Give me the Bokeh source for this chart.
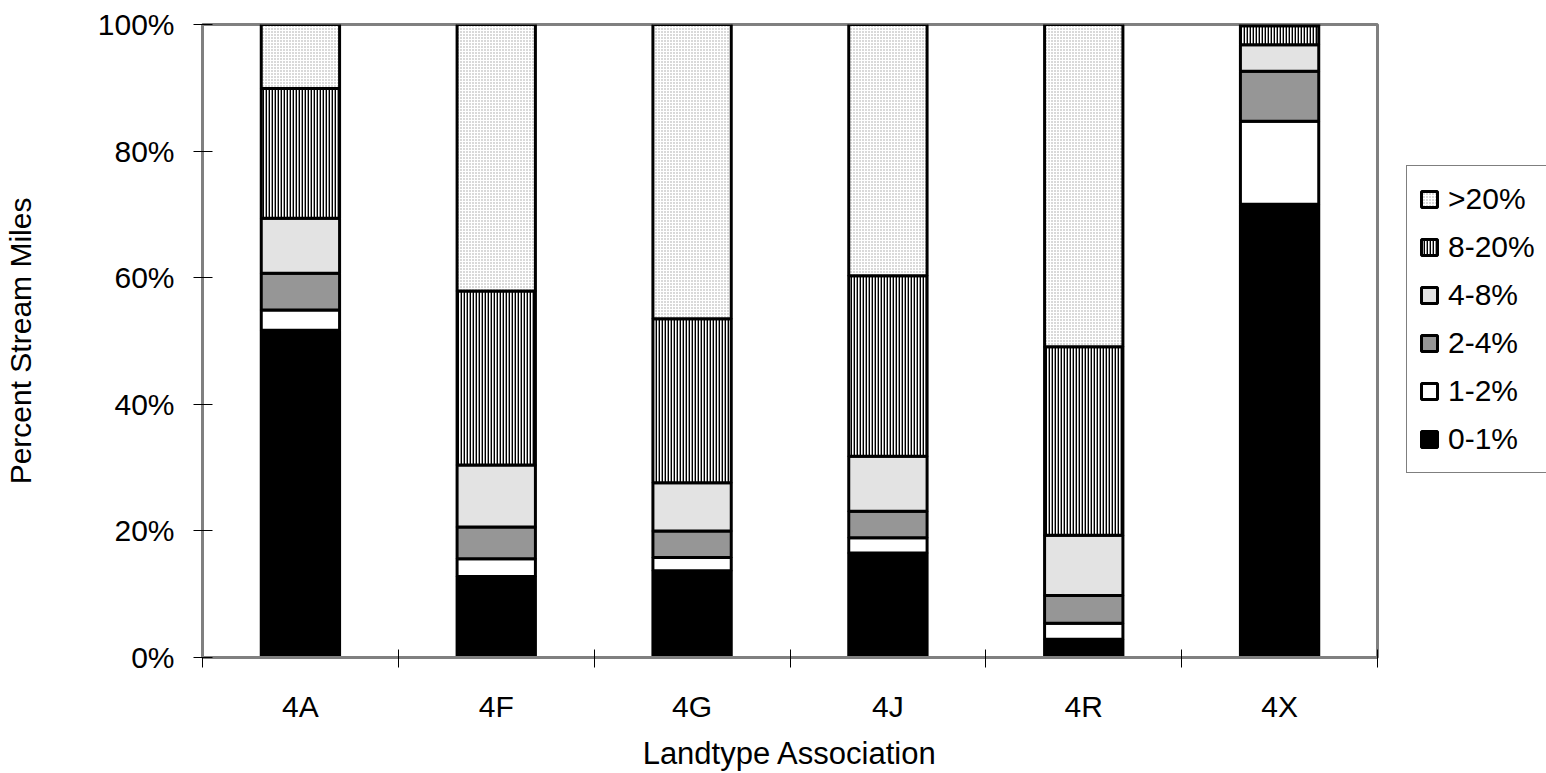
from bokeh.plotting import figure
from bokeh.layouts import row
from bokeh.models import (FixedTicker, PrintfTickFormatter, Legend, LegendItem,
                          Range1d, ColumnDataSource)
from bokeh.embed import file_html
from bokeh.resources import INLINE

categories = ["4A", "4F", "4G", "4J", "4R", "4X"]
classes = ["0-1%", "1-2%", "2-4%", "4-8%", "8-20%", ">20%"]
s_0_1 = [51.7, 12.8, 13.7, 16.5, 2.9, 71.6]
s_1_2 = [3.2, 2.8, 2.1, 2.4, 2.5, 13.1]
s_2_4 = [5.8, 5.0, 4.2, 4.2, 4.4, 7.9]
s_4_8 = [8.7, 9.8, 7.6, 8.7, 9.5, 4.2]
s_8_20 = [20.5, 27.5, 25.9, 28.5, 29.8, 3.0]
s_gt20 = [10.1, 42.1, 46.5, 39.7, 50.9, 0.2]
y_ticks = [0, 20, 40, 60, 80, 100]

FONT = "Liberation Sans"
FS = "30px"

xpos = [i + 0.5 for i in range(len(categories))]
bounds = list(range(len(categories) + 1))

data = {"x": xpos}
for name, vals in zip(classes, [s_0_1, s_1_2, s_2_4, s_4_8, s_8_20, s_gt20]):
    data[name] = vals
src = ColumnDataSource(data)

fills = ["black", "white", "#969696", "#e3e3e3", "white", "white"]
hatches = [" ", " ", " ", " ", "vertical_line", "dot"]
hcolors = ["black", "black", "black", "black", "black", "#a0a0a0"]
hweights = [1, 1, 1, 1, 1.8, 1]
style = dict(fill_color=fills, line_color="black", line_width=3,
             hatch_pattern=hatches, hatch_color=hcolors,
             hatch_weight=hweights, hatch_scale=3)

# main chart
p = figure(width=1406, height=773, output_backend="svg", toolbar_location=None,
           x_range=Range1d(0, len(categories)), y_range=Range1d(0, 100),
           min_border_left=202, min_border_right=29, min_border_top=24,
           min_border_bottom=115)
p.vbar_stack(classes, x="x", width=0.4, source=src, **style)

p.xgrid.visible = False
p.ygrid.visible = False
p.outline_line_color = "#808080"
p.outline_line_width = 3
p.background_fill_color = "white"
p.border_fill_color = "white"

ya = p.yaxis[0]
ya.ticker = FixedTicker(ticks=y_ticks, minor_ticks=[])
ya.formatter = PrintfTickFormatter(format="%d%%")
ya.major_tick_in = 10
ya.major_tick_out = 9
ya.major_tick_line_color = "black"
ya.minor_tick_line_color = None
ya.axis_line_color = "#808080"
ya.axis_line_width = 3
ya.major_label_text_font = FONT
ya.major_label_text_font_size = FS
ya.major_label_text_color = "black"
ya.major_label_standoff = 19
ya.axis_label = "Percent Stream Miles"
ya.axis_label_text_font = FONT
ya.axis_label_text_font_size = FS
ya.axis_label_text_font_style = "normal"
ya.axis_label_text_color = "black"
ya.axis_label_standoff = 58

xa = p.xaxis[0]
xa.ticker = FixedTicker(ticks=xpos, minor_ticks=bounds)
xa.major_label_overrides = {x: c for x, c in zip(xpos, categories)}
xa.major_tick_in = 0
xa.major_tick_out = 0
xa.minor_tick_in = 8
xa.minor_tick_out = 10
xa.minor_tick_line_color = "black"
xa.axis_line_color = "#808080"
xa.axis_line_width = 3
xa.major_label_text_font = FONT
xa.major_label_text_font_size = FS
xa.major_label_text_color = "black"
xa.major_label_standoff = 22
xa.axis_label = "Landtype Association"
xa.axis_label_text_font = FONT
xa.axis_label_text_font_size = "31px"
xa.axis_label_text_font_style = "normal"
xa.axis_label_text_color = "black"
xa.axis_label_standoff = 10

# legend panel: its own figure, holding hidden copies of the stacked bars
pl = figure(width=140, height=773, output_backend="svg", toolbar_location=None,
            x_range=Range1d(0, 1), y_range=Range1d(0, 100),
            x_axis_type=None, y_axis_type=None,
            min_border_left=0, min_border_right=0, min_border_top=24,
            min_border_bottom=115)
pl.xgrid.visible = False
pl.ygrid.visible = False
pl.outline_line_color = None
pl.background_fill_color = "white"
pl.border_fill_color = "white"
lrs = pl.vbar_stack(classes, x="x", width=0.4, source=src, **style)
for r in lrs:
    r.visible = False

items = [LegendItem(label=c, renderers=[r]) for c, r in zip(classes, lrs)][::-1]
legend = Legend(items=items, location=(0, 184),
                label_text_font=FONT, label_text_font_size=FS,
                label_text_color="black",
                glyph_width=20, glyph_height=20, label_height=42, spacing=6,
                label_width=130, padding=12, label_standoff=9,
                border_line_color="black", border_line_width=1,
                background_fill_color="white", background_fill_alpha=1,
                margin=0)
pl.add_layout(legend, "center")

layout = row(p, pl, spacing=0)
open("out.html", "w").write(file_html(layout, INLINE))
